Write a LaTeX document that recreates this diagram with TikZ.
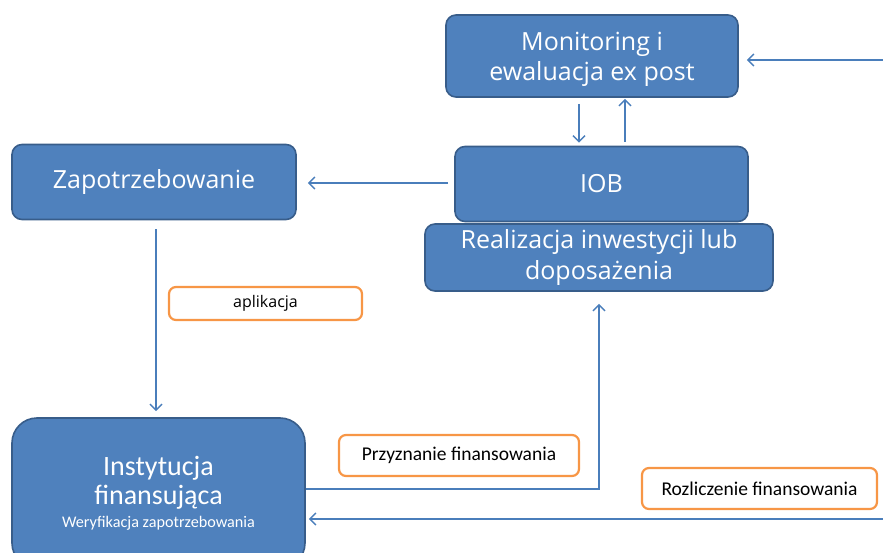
\documentclass[tikz,border=0pt]{standalone}
\usepackage{fontspec}
\setmainfont{Open Sans}
\newfontfamily\calib{Carlito}
\usetikzlibrary{arrows.meta,calc}
\definecolor{boxfill}{HTML}{4F81BD}
\definecolor{boxline}{HTML}{385D8A}
\definecolor{arrcol}{HTML}{4A7EBB}
\definecolor{orng}{HTML}{F79646}
\tikzset{
  bluebox/.style={draw=boxline, fill=boxfill, line width=1.6pt, rounded corners=10pt,
    text=white, align=center, inner sep=0pt},
  lblbox/.style={draw=orng, fill=white, line width=2.2pt, rounded corners=7pt,
    text=black, align=center, inner sep=0pt},
  whitetext/.style={text=white, align=center, inner sep=0pt},
  arr/.style={draw=arrcol, line width=1.5pt, -{Straight Barb[length=6pt,width=12pt,line width=1.5pt]}},
  bigfont/.style={font=\fontsize{25}{30}\selectfont}
}
\begin{document}
\begin{tikzpicture}[x=1pt,y=-1pt]
\useasboundingbox (0,0) rectangle (883,553);
% boxes
\node[bluebox, minimum width=292pt, minimum height=82pt] (mon) at (592,56) {};
\node[whitetext, bigfont] (montxt) at (592,59) {Monitoring i\\ewaluacja ex post};
\node[bluebox, bigfont, minimum width=293pt, minimum height=75pt] (iob) at (601.5,184) {IOB};
\node[bluebox, font=\fontsize{25}{31}\selectfont, minimum width=348pt, minimum height=67pt] (real) at (599,257.5) {Realizacja inwestycji lub\\doposażenia};
\node[bluebox, bigfont, minimum width=284pt, minimum height=75pt] (zap) at (154,182) {Zapotrzebowanie};
\node[bluebox, rounded corners=25pt, minimum width=293pt, minimum height=150pt] (inst) at (158.5,493) {};
\node[whitetext, font=\calib\fontsize{28}{29}\selectfont] (insttxt) at (158.5,483) {Instytucja\\finansująca};
\node[whitetext, font=\calib\fontsize{16.2}{19}\selectfont] (instsub) at (158.5,523) {Weryfikacja zapotrzebowania};
% labels
\node[lblbox, minimum width=193pt, minimum height=33pt, font=\fontsize{16}{19}\selectfont] (apl) at (265.5,303.5) {aplikacja};
\node[lblbox, minimum width=240pt, minimum height=41pt, font=\calib\fontsize{19.5}{22}\selectfont] (prz) at (459,455.5) {Przyznanie finansowania};
\node[lblbox, minimum width=235pt, minimum height=41pt, font=\calib\fontsize{19.5}{22}\selectfont] (roz) at (759.5,488.5) {Rozliczenie finansowania};
% free ends
\coordinate (rtop) at (883,60);
\coordinate (rbot) at (883,519);
\coordinate (bend) at (599,489);
% connectors
\draw[arr, shorten >=8pt] (rtop) -- (rtop -| mon.east);
\draw[arr, shorten <=6pt, shorten >=3pt] (mon.south -| 579,0) -- (iob.north -| 579,0);
\draw[arr, shorten <=4pt, shorten >=1pt] (iob.north -| 625,0) -- (mon.south -| 625,0);
\draw[arr, shorten <=6pt, shorten >=11pt] (iob.west |- 0,183) -- (zap.east |- 0,183);
\draw[arr, shorten <=9pt, shorten >=6pt] (zap.south -| 156,0) -- (inst.north -| 156,0);
\draw[arr, shorten >=12pt] (inst.east |- bend) -- (bend) -- (real.south -| bend);
\draw[arr, shorten >=3pt] (rbot) -- (rbot -| inst.east);
\end{tikzpicture}
\end{document}
